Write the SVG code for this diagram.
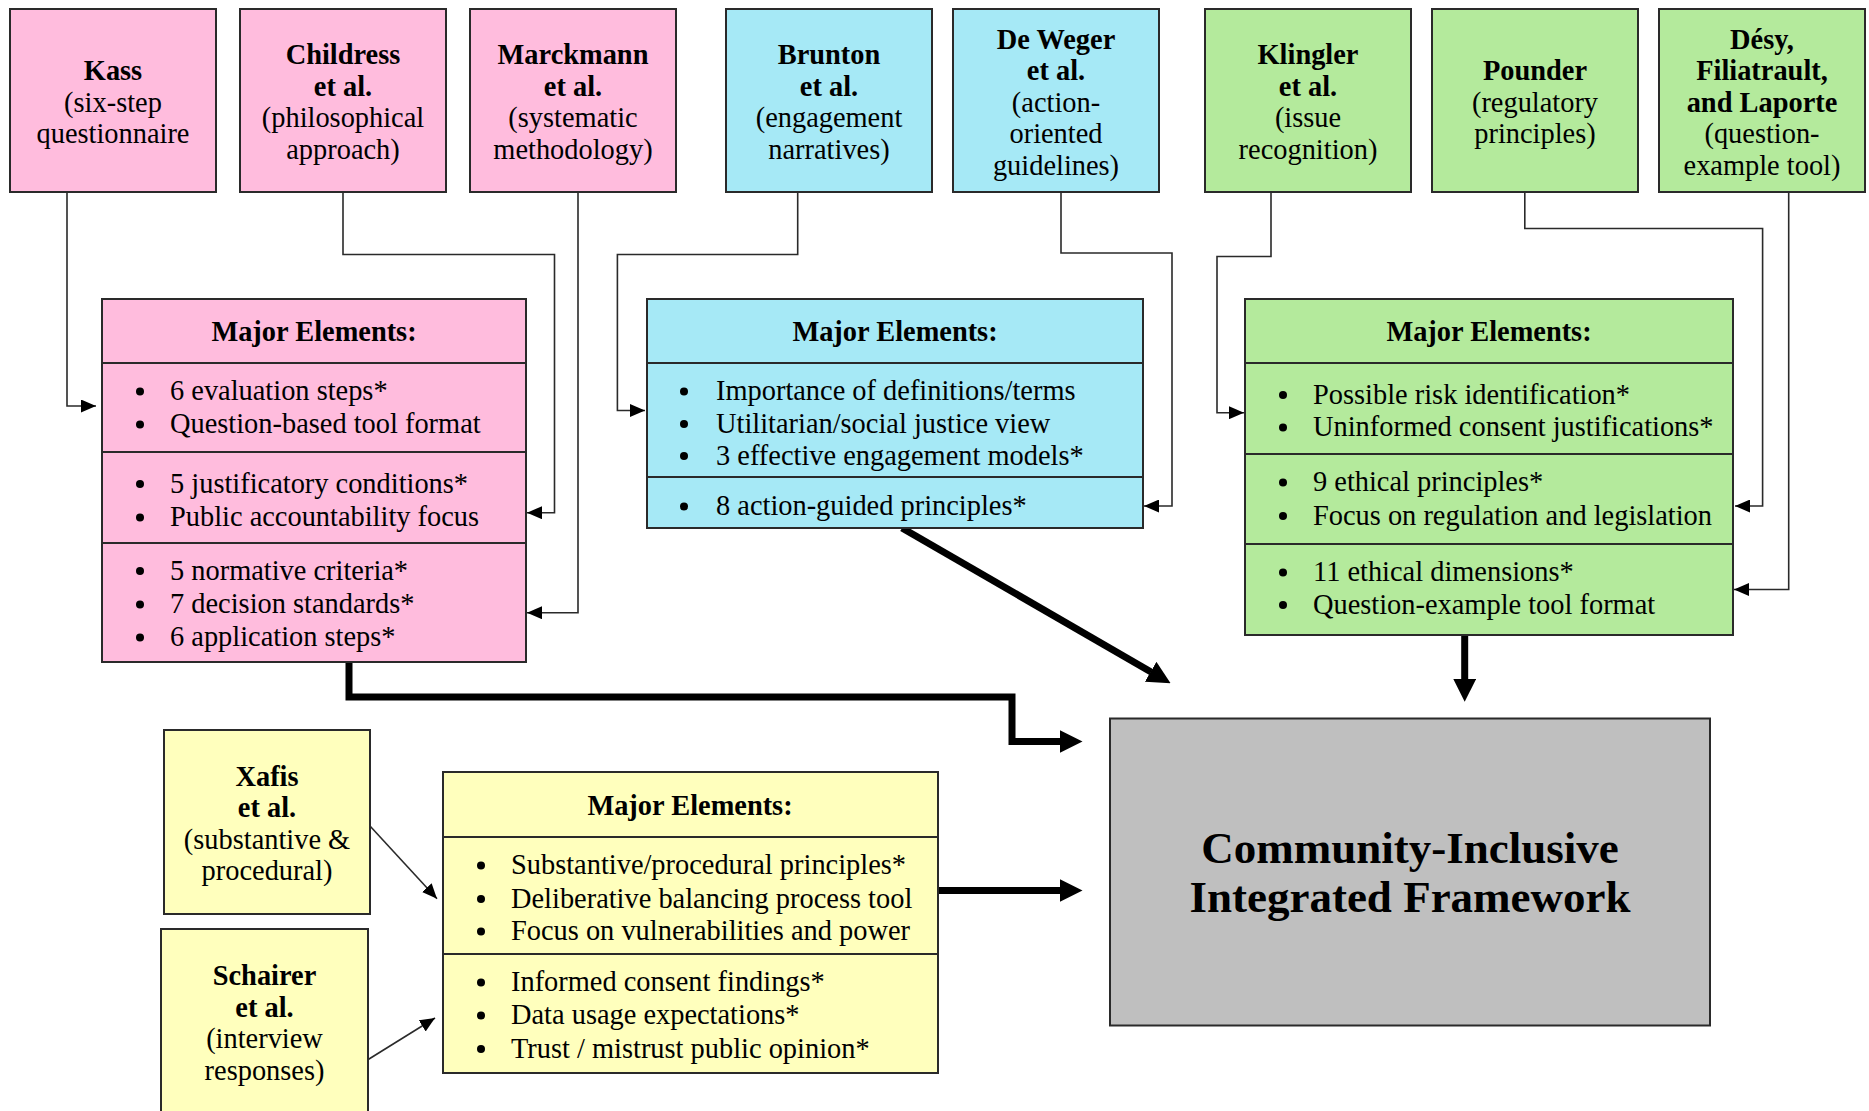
<svg xmlns="http://www.w3.org/2000/svg" width="1869" height="1111" viewBox="0 0 1869 1111">
<style>
  .box { stroke: #2a2a2a; stroke-width: 2; }
  .pink { fill: #FFBCDD; }
  .cyan { fill: #A6E9F6; }
  .green { fill: #B4EA9C; }
  .yellow { fill: #FFFFBD; }
  .gray { fill: #BFBFBF; }
  .div { stroke: #2a2a2a; stroke-width: 2; fill: none; }
  text { font-family: "Liberation Serif", "Times New Roman", serif; font-size: 28.4px; fill: #000; }
  .c { text-anchor: middle; }
  .b { font-weight: bold; }
  .title { font-weight: bold; font-size: 45px; text-anchor: middle; }
  .thin { stroke: #2a2a2a; stroke-width: 1.6; fill: none; marker-end: url(#ah); }
  .thick { stroke: #000; stroke-width: 7; fill: none; stroke-linejoin: miter; marker-end: url(#AH); }
  .dot { fill: #000; }
</style>
<defs>
  <marker id="ah" viewBox="0 0 15 13" refX="15" refY="6.5" markerWidth="15" markerHeight="13" markerUnits="userSpaceOnUse" orient="auto">
    <path d="M0,0 L15,6.5 L0,13 Z" fill="#000"/>
  </marker>
  <marker id="AH" viewBox="0 0 23 23" refX="0.5" refY="11.5" markerWidth="23" markerHeight="23" markerUnits="userSpaceOnUse" orient="auto">
    <path d="M0,0 L23,11.5 L0,23 Z" fill="#000"/>
  </marker>
</defs>
<rect width="1869" height="1111" fill="#fff"/>

<g id="connectors">
  <path class="thin" d="M67,192 V406 H96"/>
  <path class="thin" d="M343,192 V254.5 H554.5 V512.7 H527"/>
  <path class="thin" d="M578,192 V612.7 H527"/>
  <path class="thin" d="M797.7,192 V254.5 H617.4 V410.5 H645"/>
  <path class="thin" d="M1061,192 V253 H1172 V506 H1144"/>
  <path class="thin" d="M1271,192 V256.5 H1217 V412.7 H1244"/>
  <path class="thin" d="M1524.8,192 V228.5 H1762.6 V506 H1735"/>
  <path class="thin" d="M1788.7,192 V589.5 H1734"/>
  <path class="thin" d="M370,826 L437,898.7"/>
  <path class="thin" d="M367.4,1060 L435,1018"/>
  <path class="thick" d="M349,662 V697 H1012 V741.5 H1060"/>
  <path class="thick" d="M938,890.5 H1060"/>
  <path class="thick" d="M902,528 L1151.1,672"/>
  <path class="thick" d="M1464.7,636 V679.3"/>
</g>

<g id="kass">
  <rect class="box pink" x="10" y="9" width="206" height="183"/>
  <text class="c b" x="113" y="80">Kass</text>
  <text class="c" x="113" y="111.5">(six-step</text>
  <text class="c" x="113" y="143">questionnaire</text>
</g>
<g id="childress">
  <rect class="box pink" x="240" y="9" width="206" height="183"/>
  <text class="c b" x="343" y="64">Childress</text>
  <text class="c b" x="343" y="95.5">et al.</text>
  <text class="c" x="343" y="127">(philosophical</text>
  <text class="c" x="343" y="158.5">approach)</text>
</g>
<g id="marckmann">
  <rect class="box pink" x="470" y="9" width="206" height="183"/>
  <text class="c b" x="573" y="64">Marckmann</text>
  <text class="c b" x="573" y="95.5">et al.</text>
  <text class="c" x="573" y="127">(systematic</text>
  <text class="c" x="573" y="158.5">methodology)</text>
</g>
<g id="brunton">
  <rect class="box cyan" x="726" y="9" width="206" height="183"/>
  <text class="c b" x="829" y="64">Brunton</text>
  <text class="c b" x="829" y="95.5">et al.</text>
  <text class="c" x="829" y="127">(engagement</text>
  <text class="c" x="829" y="158.5">narratives)</text>
</g>
<g id="deweger">
  <rect class="box cyan" x="953" y="9" width="206" height="183"/>
  <text class="c b" x="1056" y="48.5">De Weger</text>
  <text class="c b" x="1056" y="80">et al.</text>
  <text class="c" x="1056" y="111.5">(action-</text>
  <text class="c" x="1056" y="143">oriented</text>
  <text class="c" x="1056" y="174.5">guidelines)</text>
</g>
<g id="klingler">
  <rect class="box green" x="1205" y="9" width="206" height="183"/>
  <text class="c b" x="1308" y="64">Klingler</text>
  <text class="c b" x="1308" y="95.5">et al.</text>
  <text class="c" x="1308" y="127">(issue</text>
  <text class="c" x="1308" y="158.5">recognition)</text>
</g>
<g id="pounder">
  <rect class="box green" x="1432" y="9" width="206" height="183"/>
  <text class="c b" x="1535" y="80">Pounder</text>
  <text class="c" x="1535" y="111.5">(regulatory</text>
  <text class="c" x="1535" y="143">principles)</text>
</g>
<g id="desy">
  <rect class="box green" x="1659" y="9" width="206" height="183"/>
  <text class="c b" x="1762" y="48.5">Désy,</text>
  <text class="c b" x="1762" y="80">Filiatrault,</text>
  <text class="c b" x="1762" y="111.5">and Laporte</text>
  <text class="c" x="1762" y="143">(question-</text>
  <text class="c" x="1762" y="174.5">example tool)</text>
</g>

<g id="pink-elements">
  <rect class="box pink" x="102" y="299" width="424" height="363"/>
  <path class="div" d="M102,363 H526 M102,452 H526 M102,543 H526"/>
  <text class="c b" x="314" y="341">Major Elements:</text>
  <circle class="dot" cx="140" cy="391.5" r="4"/><text x="170" y="400">6 evaluation steps*</text>
  <circle class="dot" cx="140" cy="424.5" r="4"/><text x="170" y="433">Question-based tool format</text>
  <circle class="dot" cx="140" cy="484" r="4"/><text x="170" y="492.5">5 justificatory conditions*</text>
  <circle class="dot" cx="140" cy="517.5" r="4"/><text x="170" y="526">Public accountability focus</text>
  <circle class="dot" cx="140" cy="571" r="4"/><text x="170" y="579.5">5 normative criteria*</text>
  <circle class="dot" cx="140" cy="604.5" r="4"/><text x="170" y="613">7 decision standards*</text>
  <circle class="dot" cx="140" cy="637.5" r="4"/><text x="170" y="646">6 application steps*</text>
</g>

<g id="cyan-elements">
  <rect class="box cyan" x="647" y="299" width="496" height="229"/>
  <path class="div" d="M647,363 H1143 M647,477 H1143"/>
  <text class="c b" x="895" y="341">Major Elements:</text>
  <circle class="dot" cx="684" cy="391.5" r="4"/><text x="716" y="400">Importance of definitions/terms</text>
  <circle class="dot" cx="684" cy="424" r="4"/><text x="716" y="432.5">Utilitarian/social justice view</text>
  <circle class="dot" cx="684" cy="456" r="4"/><text x="716" y="464.5">3 effective engagement models*</text>
  <circle class="dot" cx="684" cy="506.5" r="4"/><text x="716" y="515">8 action-guided principles*</text>
</g>

<g id="green-elements">
  <rect class="box green" x="1245" y="299" width="488" height="336"/>
  <path class="div" d="M1245,363 H1733 M1245,454 H1733 M1245,544 H1733"/>
  <text class="c b" x="1489" y="341">Major Elements:</text>
  <circle class="dot" cx="1283" cy="395" r="4"/><text x="1313" y="403.5">Possible risk identification*</text>
  <circle class="dot" cx="1283" cy="427.5" r="4"/><text x="1313" y="436">Uninformed consent justifications*</text>
  <circle class="dot" cx="1283" cy="482.5" r="4"/><text x="1313" y="491">9 ethical principles*</text>
  <circle class="dot" cx="1283" cy="516" r="4"/><text x="1313" y="524.5">Focus on regulation and legislation</text>
  <circle class="dot" cx="1283" cy="572.5" r="4"/><text x="1313" y="581">11 ethical dimensions*</text>
  <circle class="dot" cx="1283" cy="605" r="4"/><text x="1313" y="613.5">Question-example tool format</text>
</g>

<g id="xafis">
  <rect class="box yellow" x="164" y="730" width="206" height="184"/>
  <text class="c b" x="267" y="785.5">Xafis</text>
  <text class="c b" x="267" y="817">et al.</text>
  <text class="c" x="267" y="848.5">(substantive &amp;</text>
  <text class="c" x="267" y="880">procedural)</text>
</g>
<g id="schairer">
  <rect class="box yellow" x="161" y="929" width="207" height="200"/>
  <text class="c b" x="264.5" y="985">Schairer</text>
  <text class="c b" x="264.5" y="1016.5">et al.</text>
  <text class="c" x="264.5" y="1048">(interview</text>
  <text class="c" x="264.5" y="1079.5">responses)</text>
</g>

<g id="yellow-elements">
  <rect class="box yellow" x="443" y="772" width="495" height="301"/>
  <path class="div" d="M443,837 H938 M443,954 H938"/>
  <text class="c b" x="690" y="815">Major Elements:</text>
  <circle class="dot" cx="481" cy="865.5" r="4"/><text x="511" y="874">Substantive/procedural principles*</text>
  <circle class="dot" cx="481" cy="899" r="4"/><text x="511" y="907.5">Deliberative balancing process tool</text>
  <circle class="dot" cx="481" cy="931.5" r="4"/><text x="511" y="940">Focus on vulnerabilities and power</text>
  <circle class="dot" cx="481" cy="982.5" r="4"/><text x="511" y="991">Informed consent findings*</text>
  <circle class="dot" cx="481" cy="1015.5" r="4"/><text x="511" y="1024">Data usage expectations*</text>
  <circle class="dot" cx="481" cy="1049" r="4"/><text x="511" y="1057.5">Trust / mistrust public opinion*</text>
</g>

<g id="framework">
  <rect class="box gray" x="1110" y="718.5" width="600" height="307"/>
  <text class="title" x="1410" y="863">Community-Inclusive</text>
  <text class="title" x="1410" y="912">Integrated Framework</text>
</g>
</svg>
